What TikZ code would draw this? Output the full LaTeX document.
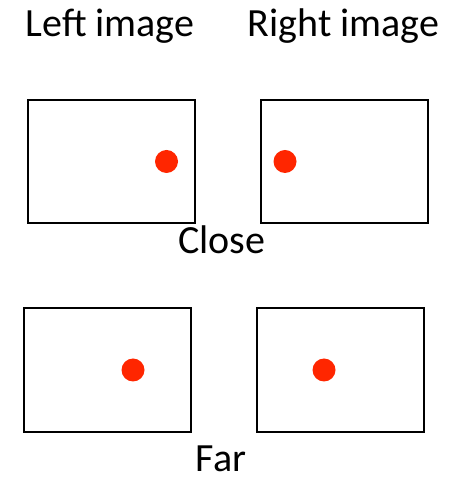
\documentclass[tikz,border=0pt]{standalone}
\usepackage{fontspec}
\setmainfont{Carlito}
\definecolor{dotred}{HTML}{FF2600}
\begin{document}
\begin{tikzpicture}[x=1pt,y=1pt,
  frame/.style={draw=black,line width=1.4pt},
  spot/.style={fill=dotred,draw=none},
  lbl/.style={anchor=base,inner sep=0pt,font=\fontsize{40}{48}\selectfont}]
\useasboundingbox (0,0) rectangle (464,478);
\node[lbl] (tl) at (110,441) {Left image};
\node[lbl] (tr) at (343.5,441) {Right image};
\draw[frame] (28,255) rectangle (195,378);
\draw[frame] (261,255) rectangle (428,378);
\fill[spot] (166.5,316.5) circle (11.5);
\fill[spot] (285,316.5) circle (11.5);
\node[lbl] (close) at (222,224) {Close};
\draw[frame] (24,46) rectangle (191,170);
\draw[frame] (257,46) rectangle (424,170);
\fill[spot] (133,108) circle (11.5);
\fill[spot] (324,108) circle (11.5);
\node[lbl] (far) at (221,6) {Far};
\end{tikzpicture}
\end{document}
